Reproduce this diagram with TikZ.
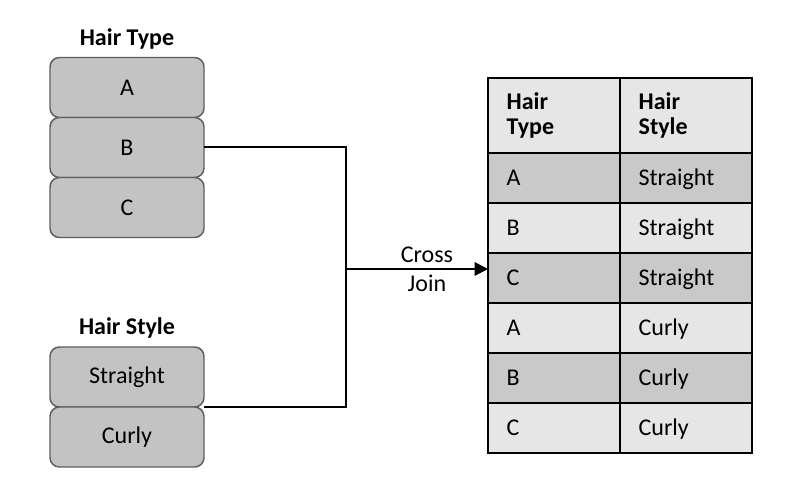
\documentclass[tikz,border=0pt]{standalone}
\usepackage{fontspec}
\setmainfont{Carlito}
\usetikzlibrary{positioning,arrows.meta}
\definecolor{boxgray}{HTML}{C3C3C3}
\definecolor{boxline}{HTML}{5E5E5E}
\definecolor{rowdark}{HTML}{C9C9C9}
\definecolor{rowlight}{HTML}{E6E6E6}

\begin{document}
\begin{tikzpicture}[x=0.75pt, y=-0.75pt, font=\fontsize{18}{22}\selectfont,
        item/.style={draw=boxline, line width=1.1pt, fill=boxgray, rounded corners=7pt,
            minimum width=115.5pt, minimum height=45pt, inner sep=0pt, outer sep=0pt},
        title/.style={font=\fontsize{18}{22}\selectfont\bfseries},
        cell/.style={draw=black, line width=1.2pt, text width=71pt, align=left,
            inner xsep=14pt, inner ysep=0pt, outer sep=0pt, minimum height=37.5pt},
        head/.style={cell, fill=rowlight, font=\fontsize{18}{19}\selectfont\bfseries, minimum height=56.25pt},
        light/.style={cell, fill=rowlight, text height=11.5pt, text depth=0pt},
        dark/.style={cell, fill=rowdark, text height=11.5pt, text depth=0pt},
        link/.style={line width=1.5pt}]
        \useasboundingbox (0,0) rectangle (797,495);

        \node[item] (typea) at (127,87.5) {A};
        \node[item, below=0pt of typea] (typeb) {B};
        \node[item, below=0pt of typeb] (typec) {C};
        \node[title, above=3pt of typea] (typetitle) {Hair Type};

        \node[item] (stylea) at (127,377) {Straight};
        \node[item, below=0pt of stylea] (styleb) {Curly};
        \node[title, above=3pt of stylea] (styletitle) {Hair Style};

        \node[head] (htype) at (554,115.5) {Hair\\Type};
        \node[head, right=0pt of htype] (hstyle) {Hair\\Style};
        \node[dark, below=0pt of htype] (r1type) {A};
        \node[dark, right=0pt of r1type] (r1style) {Straight};
        \node[light, below=0pt of r1type] (r2type) {B};
        \node[light, right=0pt of r2type] (r2style) {Straight};
        \node[dark, below=0pt of r2type] (r3type) {C};
        \node[dark, right=0pt of r3type] (r3style) {Straight};
        \node[light, below=0pt of r3type] (r4type) {A};
        \node[light, right=0pt of r4type] (r4style) {Curly};
        \node[dark, below=0pt of r4type] (r5type) {B};
        \node[dark, right=0pt of r5type] (r5style) {Curly};
        \node[light, below=0pt of r5type] (r6type) {C};
        \node[light, right=0pt of r6type] (r6style) {Curly};

        \coordinate (join) at (346,269);
        \draw[link] (typeb.east) -| (join);
        \draw[link] (stylea.south east) -| (join);
        \draw[link, -{Triangle[length=10pt,width=10pt]}] (join) -- (join -| r3type.west)
            node[pos=0.57, align=center] {Cross\\Join};
\end{tikzpicture}
\end{document}
